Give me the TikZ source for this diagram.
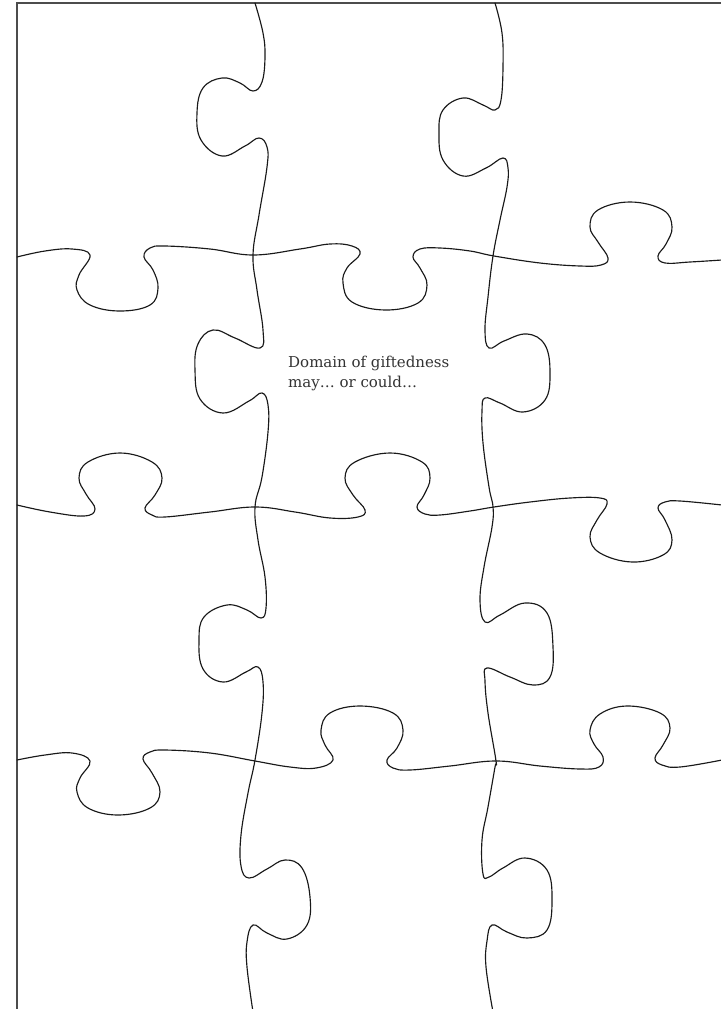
\documentclass[tikz,border=0pt]{standalone}
\usepackage{fontspec}
\newfontfamily\labelfont{DejaVu Serif}
\begin{document}
\begin{tikzpicture}[x=1pt,y=-1pt,
  cut/.style={draw=black!90,line width=1.15pt,line join=round,line cap=round},
  frame/.style={draw=black!70,line width=1.4pt},
  lbl/.style={font=\labelfont\fontsize{15}{20}\selectfont,text=black!80,inner sep=0pt,anchor=base west}]
\useasboundingbox (0,0) rectangle (720,1009);
% frame (left and top edges visible)
\draw[frame] (17,1012) -- (17,3) -- (723,3);
% horizontal cut 1
\draw[cut] plot[smooth,tension=0.68] coordinates {(17,257) (45,251) (72,249) (90,255) (79,275) (77,290) (90,305) (120,311) (150,305) (158,288) (153,270) (144,257) (150,248) (165,246) (210,249) (253,255) (300,249) (330,244) (352,246) (360,254) (347,268) (343,283) (352,302) (385,310) (418,303) (427,285) (420,268) (413,257) (420,249) (440,248) (470,251) (494,256) (540,263) (580,266) (601,265) (608,258) (598,242) (590,227) (598,210) (630,202) (663,210) (672,227) (666,244) (658,256) (665,263) (690,262) (722,260)};
% horizontal cut 2
\draw[cut] plot[smooth,tension=0.68] coordinates {(17,505) (50,512) (84,516) (95,509) (86,494) (79,478) (88,462) (120,453) (152,462) (162,478) (155,495) (145,508) (152,515) (165,517) (210,512) (255,507) (295,512) (330,518) (358,517) (365,510) (353,495) (345,478) (355,462) (390,453) (422,462) (430,478) (424,495) (417,507) (425,514) (440,515) (470,511) (494,507) (530,502) (570,498) (600,498) (607,504) (597,520) (590,537) (600,553) (632,562) (663,555) (672,540) (665,520) (658,508) (665,502) (680,501) (722,505)};
% horizontal cut 3
\draw[cut] plot[smooth,tension=0.68] coordinates {(17,760) (45,755) (72,753) (90,761) (80,778) (77,792) (88,808) (118,815) (150,808) (160,792) (152,773) (143,759) (150,752) (165,750) (210,753) (255,761) (290,767) (316,768) (333,760) (325,745) (321,730) (330,713) (360,706) (393,713) (403,730) (397,748) (387,760) (393,768) (410,770) (450,766) (496,761) (540,766) (580,769) (599,767) (603,757) (594,744) (590,730) (600,714) (627,706) (660,713) (670,728) (663,745) (655,758) (662,765) (680,767) (722,760)};
% vertical cut 1
\draw[cut] plot[smooth,tension=0.68] coordinates {(255,3) (263,33) (265,57) (262,82) (253,91) (240,83) (222,78) (203,88) (197,113) (201,140) (222,156) (245,146) (259,138) (267,147) (267,167) (259,215) (253,255) (257,290) (263,330) (260,348) (235,338) (213,330) (198,344) (195,370) (200,399) (223,413) (249,401) (262,393) (268,405) (268,432) (262,477) (255,507) (258,540) (265,577) (266,608) (261,618) (247,610) (227,605) (204,617) (199,640) (203,669) (223,682) (246,672) (258,667) (263,682) (262,713) (255,760) (248,793) (241,835) (241,866) (249,878) (267,869) (285,860) (302,868) (310,897) (307,925) (287,939) (267,933) (253,925) (247,942) (247,967) (253,1012)};
% vertical cut 2
\draw[cut] plot[smooth,tension=0.68] coordinates {(495,3) (502,33) (503,67) (501,100) (495,110) (483,105) (463,98) (443,110) (439,133) (443,160) (463,176) (486,168) (503,158) (508,168) (507,187) (500,220) (493,256) (488,297) (485,330) (489,348) (504,341) (527,334) (545,345) (550,373) (545,400) (523,412) (500,403) (485,398) (482,411) (483,443) (489,487) (493,507) (492,527) (484,567) (480,600) (485,622) (500,615) (525,603) (547,613) (553,647) (550,677) (533,685) (510,677) (487,668) (485,681) (488,713) (496,761) (495,767) (488,807) (482,840) (483,874) (489,877) (503,868) (525,858) (547,870) (552,900) (547,930) (527,938) (507,932) (492,925) (487,941) (486,967) (493,1012)};
% label
\node[lbl] (line1) at (288,367) {Domain of giftedness};
\node[lbl] (line2) at (288,387) {may… or could…};
\end{tikzpicture}
\end{document}
